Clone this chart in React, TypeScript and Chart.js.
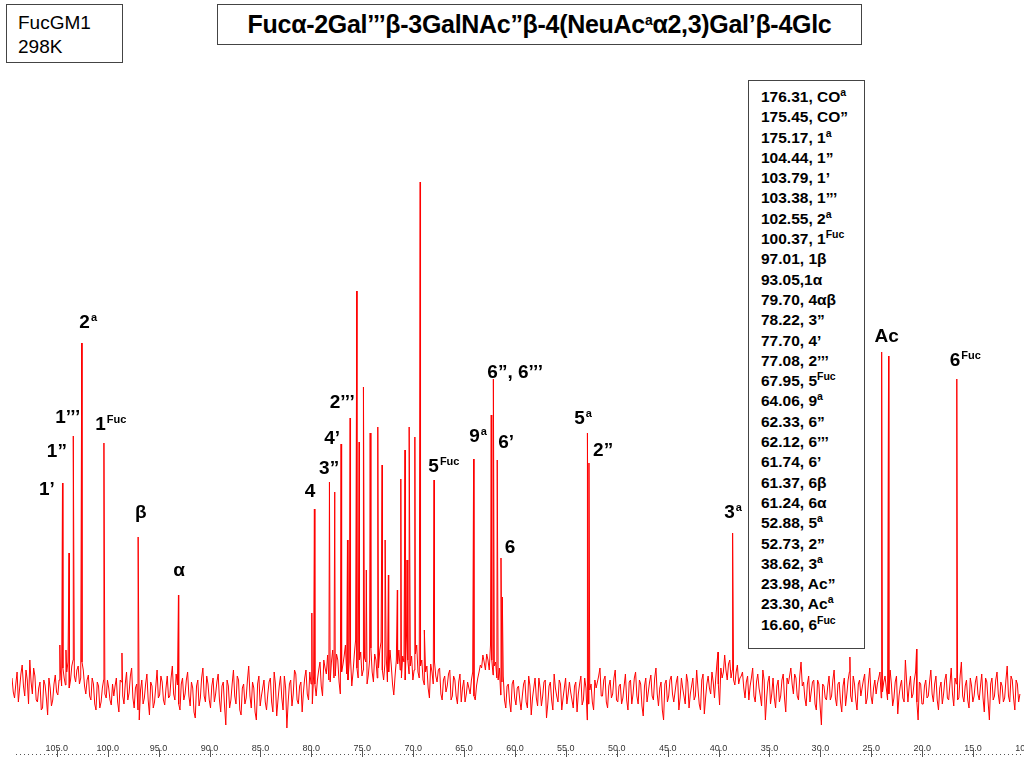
import React, { useEffect, useRef } from "react";
import { Chart, registerables } from "chart.js";

Chart.register(...registerables);

// Baseline noise of the spectrum, sampled every 0.25 ppm starting at 109.4 ppm
const noiseStart = 109.4;
const noiseStep = 0.25;
const noise: number[] = [
  12, -8, 18, 2, 25, -6, 10, 30, -4, 14, -12, 8, -18, 5, -25, 2, -10, 15, -5, 20,
  22, 5, 28, 10, 30, 8, 24, 12, 20, -4, 15, -10, 6, -20, 4, -12, 10, -8, 2, -15,
  -6, 12, -22, 8, -14, 18, -3, 22, -18, 6, -30, 10, -8, 16, -25, 4, -12, 20, -5, 8,
  -15, 14, -6, 24, -10, 5, -20, 12, -4, 18, -16, 2, -28, 10, -8, 22, -12, 6, -18, 12,
  -4, 16, -22, 8, -35, 4, -10, 20, -14, 10, -25, 6, -8, 24, -18, 2, -30, 14, -6, 10,
  -20, 8, -12, 18, -26, 4, -8, 14, -38, 6, -16, 20, -10, 4, -22, 12, -4, 18, -14, 6,
  10, 28, -6, 22, 35, 8, 40, 14, 30, -4, 25, 45, 10, 32, 18, 50, 12, 38, 20, 28,
  15, 42, 8, 30, 22, 48, 10, 35, 18, 25, -5, 30, 40, 12, 28, 55, 16, 34, 20, 45,
  12, 30, 5, 24, -8, 18, 28, 8, 22, -10, 14, 4, 20, -6, 10, -14, 16, 2, -12, 8,
  -4, 18, -10, 12, 25, 35, 20, 30, 45, 15, 28, 10, -5, 14, -18, 6, -22, 10, -15, 4,
  -20, 6, -12, 14, -25, 2, -8, 12, -16, 8, -28, 4, -10, 16, -6, 10, -20, 2, -14, 8,
  -10, 4, -22, 6, -15, 12, -30, 0, -12, 10, 8, 22, -6, 14, -18, 10, -4, 20, -12, 6,
  -8, 16, -20, 10, -4, 18, -14, 6, -26, 12, -2, 15, -10, 22, -16, 8, -30, 10, -6, 14,
  -12, 8, -20, 12, -6, 16, -18, 4, -10, 20, -14, 10, -24, 6, 2, 18, -8, 28, -15, 12,
  35, 10, 30, 20, 5, 25, 12, 18, -8, 14, 4, 22, -12, 16, -6, 20, -30, 8, -14, 12,
  -18, 10, -6, 16, -22, 6, 22, -4, 12, -10, 28, 8, -16, 14, -2, 10, -20, 6, -35, 4,
  -10, 14, -6, 20, -16, 8, -22, 12, -4, 18, -12, 6, -20, 10, 2, 16, -8, 22, -14, 10,
  6, 18, -2, 14, -10, 20, -16, 8, -24, 4, -8, 30, -12, 14, -4, 18, -30, 6, -14, 10,
  -6, 20, -12, 14, -20, 8, -4, 16, -10, 22, -16, 6, -8, 28, -12, 10, -18, 4, -6, 14,
  -10, 16, -22, 8, -30, 12, -6, 18, -14, 4, -8, 24, -12, 10, -20, 6, -4,
];
// Noise samples lying half-way between the samples above
const noiseMid: number[] = [
  -2, 6, -12, 16, 4, 20, -14, 8, 22, -10, 2, -20, 10, -8, 12, -16, 6, -2, 10, 4,
  12, 18, 2, 24, 14, 20, 6, 28, 4, 10, -6, 12, -14, 8, -18, 2, -4, 10, -10, 6,
  4, -12, 10, -6, 6, -10, 14, -8, 2, -20, 0, -14, 6, -10, 8, -18, 4, -8, 14, -10,
  2, -8, 12, -4, 16, -14, 6, -10, 10, -6, 8, -22, 4, -16, 12, -6, 14, -10, 4, -12,
  8, -10, 4, -16, 10, -18, 6, -6, 14, -20, 2, -14, 10, -6, 8, -22, 6, -16, 2, -12,
  -4, 12, -22, 6, -10, 14, -20, 2, -12, 10, -4, 16, -14, 8, -2, 20, -10, 6, 14, -6,
  20, 4, 30, 16, 10, 28, 12, 36, 8, 18, 34, 16, 28, 4, 36, 22, 30, 14, 32, 6,
  30, 18, 36, 12, 40, 20, 26, 8, 40, 6, 14, 26, 20, 34, 10, 30, 24, 10, 36, 18,
  24, 10, 18, 2, 26, 6, 14, 20, -4, 10, -2, 16, -10, 14, -6, 8, -12, 10, -4, 2,
  10, -6, 4, 18, 22, 28, 36, 20, 30, 24, 12, 22, 8, -10, 4, -12, 6, -8, 2, -10,
  -6, 10, -18, 4, -8, 12, -16, 2, -6, 10, -14, 8, -20, 2, -12, 6, -8, 12, -4, -2,
  -18, 8, -4, 14, -10, 2, -14, 6, -20, 2, 14, -6, 10, -12, 4, -8, 12, -10, 4, -14,
  4, -10, 8, -14, 12, -6, 10, -16, 4, -12, 8, -6, 12, -4, 2, -20, 6, -12, 10, -4,
  -2, 14, -8, 2, -14, 8, -4, 12, -6, 2, -20, 16, -8, 14, -4, 8, 12, 6, 22, 18,
  20, 26, 12, 10, 18, 6, 14, 2, 8, -10, 12, -6, 8, 2, -16, 10, -8, 14, -4, -8,
  4, -12, 10, -8, 12, 14, 6, 16, -6, 14, 4, -8, 6, -12, 8, -14, 10, -16, 6, -8,
  4, -10, 10, -8, 6, -12, 4, -16, 10, -6, 14, -10, 6, -6, 10, -14, 8, -6, 2, -4,
  12, -8, 8, 2, -4, 6, -8, 14, -6, 10, -12, 8, 4, -8, 10, -12, 8, -14, 4, -8,
  8, -4, 6, -10, 2, -14, 10, -8, 6, -4, 12, -10, 14, -6, 4, -10, 12, -12, 8, -4,
  4, -8, 12, -12, 6, -10, 10, -4, 8, -12, 10, -6, 14, -8, 10, -12,
];

// Resonances (ppm) and their intensities
const peakShifts: number[] = [
  104.44, 103.79, 103.38, 102.55, 100.37, 97.01, 93.05,
  79.7, 78.22, 77.7, 77.08, 76.19, 75.53, 75.3, 74.88, 74.22, 73.47, 73.04, 72.43,
  71.21, 70.79, 70.39, 69.83, 69.31, 67.95, 64.06, 62.33, 62.12, 61.74, 61.37, 61.24,
  52.88, 52.73, 38.62, 23.98, 23.3, 16.6,
];
const peakHeights: number[] = [
  207, 137, 254, 347, 247, 153, 95,
  181, 208, 198, 246, 272, 399, 248, 303, 257, 263, 225, 115,
  211, 240, 263, 253, 508, 210, 231, 275, 311, 230, 132, 93,
  257, 227, 157, 338, 334, 311,
];
const minorShifts: number[] = [104.7, 104.1, 98.6, 79.95, 76.45, 74.6, 72.75, 71.55, 70.6, 68.9, 40.05, 20.55, 27.1];
const minorHeights: number[] = [45, 40, 37, 77, 150, 120, 150, 100, 130, 60, 38, 41, 33];

// Peak annotations
const labelText: string[] = ["2", "1’’’", "1", "1”", "1’", "β", "α", "4", "3”", "4’", "2’’’", "5", "9", "6’", "6”, 6’’’", "6", "5", "2”", "3", "Ac", "6"];
const labelSup: string[] = ["a", "", "Fuc", "", "", "", "", "", "", "", "", "Fuc", "a", "", "", "", "a", "", "a", "", "Fuc"];
const labelShift: number[] = [101.92, 103.93, 99.69, 104.99, 105.97, 96.76, 92.98, 80.12, 78.25, 77.96, 76.97, 66.98, 63.62, 60.87, 59.98, 60.48, 53.31, 51.34, 38.58, 23.48, 15.76];
const labelLevel: number[] = [362, 267, 260, 233, 195, 172, 114, 193, 216, 246, 282, 218, 248, 242, 312, 137, 266, 234, 172, 348, 324];

// Assignment table
const tableMain: string[] = [
  "176.31, CO", "175.45, CO”", "175.17, 1", "104.44, 1”", "103.79, 1’", "103.38, 1’’’",
  "102.55, 2", "100.37, 1", "97.01, 1β", "93.05,1α", "79.70, 4αβ", "78.22, 3”",
  "77.70, 4’", "77.08, 2’’’", "67.95, 5", "64.06, 9", "62.33, 6”", "62.12, 6’’’",
  "61.74, 6’", "61.37, 6β", "61.24, 6α", "52.88, 5", "52.73, 2”", "38.62, 3",
  "23.98, Ac”", "23.30, Ac", "16.60, 6",
];
const tableSup: string[] = [
  "a", "", "a", "", "", "", "a", "Fuc", "", "", "", "", "", "", "Fuc", "a", "", "",
  "", "", "", "a", "", "a", "", "a", "Fuc",
];

const axisMin = 10;
const axisMax = 109.4;

const FONT = "'Liberation Sans', Arial, Helvetica, sans-serif";

export default function App() {
  const canvasRef = useRef<HTMLCanvasElement | null>(null);

  useEffect(() => {
    if (!canvasRef.current) return;
    const pts: { x: number; y: number }[] = noise.map((v, i) => ({ x: noiseStart - i * noiseStep, y: v }));
    noiseMid.forEach((v, i) => pts.push({ x: noiseStart - i * noiseStep - noiseStep / 2, y: v }));
    peakShifts.forEach((p, i) => pts.push({ x: p, y: peakHeights[i] }));
    minorShifts.forEach((p, i) => pts.push({ x: p, y: minorHeights[i] }));
    pts.sort((a, b) => b.x - a.x);

    const axisDecor = {
      id: "axisDecor",
      afterDraw(chart: any) {
        const { ctx, chartArea, scales } = chart;
        const xs = scales.x;
        const y = chartArea.bottom + 14.5;
        ctx.save();
        ctx.strokeStyle = "#555";
        ctx.lineWidth = 1;
        ctx.setLineDash([1, 3]);
        ctx.beginPath();
        ctx.moveTo(chartArea.left + 4, y);
        ctx.lineTo(chartArea.right, y);
        ctx.stroke();
        ctx.setLineDash([]);
        ctx.beginPath();
        xs.ticks.forEach((t: any) => {
          const px = Math.round(xs.getPixelForValue(t.value)) + 0.5;
          ctx.moveTo(px, y - 5);
          ctx.lineTo(px, y + 2.5);
        });
        ctx.stroke();
        ctx.restore();
      },
    };

    const peakLabels = {
      id: "peakLabels",
      afterDatasetsDraw(chart: any) {
        const { ctx, scales } = chart;
        ctx.save();
        ctx.fillStyle = "#000";
        ctx.textBaseline = "alphabetic";
        ctx.textAlign = "left";
        labelText.forEach((t, i) => {
          const cx = scales.x.getPixelForValue(labelShift[i]);
          const by = scales.y.getPixelForValue(labelLevel[i]);
          ctx.font = `bold 19px ${FONT}`;
          const w1 = ctx.measureText(t).width;
          const sup = labelSup[i];
          ctx.font = `bold 11px ${FONT}`;
          const w2 = sup ? ctx.measureText(sup).width + 1 : 0;
          const x0 = cx - (w1 + w2) / 2;
          ctx.font = `bold 19px ${FONT}`;
          ctx.fillText(t, x0, by);
          if (sup) {
            ctx.font = `bold 11px ${FONT}`;
            ctx.fillText(sup, x0 + w1 + 1, by - 7);
          }
        });
        ctx.restore();
      },
    };

    const chart = new Chart(canvasRef.current, {
      type: "line",
      data: {
        datasets: [
          {
            data: pts,
            borderColor: "rgb(255,0,0)",
            borderWidth: 1,
            pointRadius: 0,
            tension: 0,
            fill: false,
          },
        ],
      },
      options: {
        animation: false,
        responsive: false,
        events: [],
        layout: { padding: { left: 12, right: 0, top: 150, bottom: 0 }, autoPadding: false },
        plugins: { legend: { display: false }, tooltip: { enabled: false } },
        scales: {
          x: {
            type: "linear",
            reverse: true,
            min: axisMin,
            max: axisMax,
            grid: { display: false, drawTicks: false },
            border: { display: false },
            ticks: {
              stepSize: 5,
              includeBounds: false,
              autoSkip: false,
              maxRotation: 0,
              padding: 3,
              color: "#333",
              font: { size: 9, family: FONT },
              callback: (v: any) => Number(v).toFixed(1),
            },
            afterFit: (s: any) => {
              s.paddingLeft = 0;
              s.paddingRight = 0;
              s.height = 28;
            },
          },
          y: { display: false, min: -50, max: 540 },
        },
      },
      plugins: [axisDecor, peakLabels],
    });
    return () => chart.destroy();
  }, []);

  return (
    <div style={{ position: "absolute", left: 0, top: 0, width: 1024, height: 768, background: "#fff", fontFamily: FONT, overflow: "hidden" }}>
      <canvas ref={canvasRef} width={1024} height={768} style={{ position: "absolute", left: 0, top: 0, width: 1024, height: 768 }} />
      <div style={{ position: "absolute", left: 6, top: 4, width: 104, height: 57, border: "1px solid #444", background: "#fff", fontSize: 19, lineHeight: "23.5px", padding: "0 0 0 11px", boxSizing: "content-box", color: "#000" }}>
        <div style={{ paddingTop: 6 }}>FucGM1</div>
        <div>298K</div>
      </div>
      <div style={{ position: "absolute", left: 217, top: 4, width: 643, height: 39, border: "1px solid #444", background: "#fff", fontSize: 25, fontWeight: "bold", lineHeight: "39px", textAlign: "center", color: "#000", whiteSpace: "nowrap", letterSpacing: "-0.3px" }}>
        Fucα-2Gal’’’β-3GalNAc”β-4(NeuAc<sup style={{ fontSize: 14, verticalAlign: "8px", lineHeight: 0 }}>a</sup>α2,3)Gal’β-4Glc
      </div>
      <div style={{ position: "absolute", left: 748, top: 80, width: 117, height: 569, border: "1px solid #444", background: "#fff", color: "#000", fontWeight: "bold", fontSize: 15.5, lineHeight: "20.3px", paddingTop: 6, boxSizing: "border-box", paddingLeft: 12, whiteSpace: "nowrap" }}>
        {tableMain.map((t, i) => (
          <div key={i}>
            {t}
            {tableSup[i] ? <sup style={{ fontSize: 10.5, verticalAlign: "6px", lineHeight: 0 }}>{tableSup[i]}</sup> : null}
          </div>
        ))}
      </div>
    </div>
  );
}
